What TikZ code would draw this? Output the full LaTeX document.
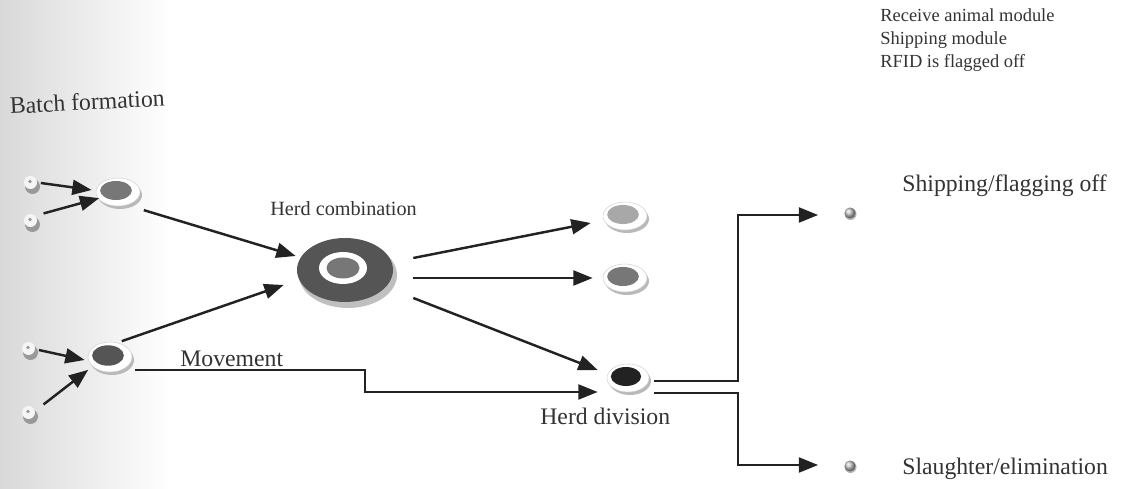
\documentclass[tikz,border=0pt]{standalone}
\usepackage{fontspec}
\setmainfont{Liberation Serif}
\usetikzlibrary{arrows.meta,shapes.geometric,calc}
\definecolor{ink}{HTML}{333333}
\definecolor{cLight}{HTML}{A8A8A8}
\definecolor{cMid}{HTML}{777777}
\definecolor{cDark}{HTML}{555555}
\definecolor{cBlack}{HTML}{222222}
\newcommand\mydisc[5]{%
  \fill[gray!55] ($(#2)+(2,3)$) ellipse [x radius=#3, y radius=#4];
  \fill[white,draw=gray!35,line width=0.3pt] (#2) ellipse [x radius=#3, y radius=#4];
  \fill[#5] ($(#2)+(-2,-1.5)$) ellipse [x radius=#3*0.72, y radius=#4*0.68];
  \node[ellipse,inner sep=0pt,minimum width={#3*0.04cm},minimum height={#4*0.04cm}] (#1) at (#2) {};
}
\newcommand\mysrc[2]{%
  \fill[gray!80] ($(#2)+(0.5,2.5)$) circle [radius=7.5];
  \fill[white!92!gray] ($(#2)+(-1.5,-1.5)$) circle [radius=6.5];
  \fill[gray!80] ($(#2)+(-2,-2.5)$) circle [radius=1.8];
  \node[circle,inner sep=0pt,minimum size=0.3cm] (#1) at (#2) {};
}
\newcommand\myend[2]{%
  \fill[gray!60] ($(#2)+(0.5,1)$) circle [radius=6];
  \shade[ball color=gray!45] (#2) circle [radius=5.5];
  \node[circle,inner sep=0pt,minimum size=0.22cm] (#1) at (#2) {};
}
\tikzset{
  arr/.style={draw=cBlack,line width=1.4pt,-{Triangle[length=11pt,width=8.5pt]}},
  lbl/.style={text=ink,inner sep=0pt,anchor=base west,font=\fontsize{13.5}{16}\selectfont},
  slbl/.style={text=ink,inner sep=0pt,anchor=base west,font=\fontsize{10.5}{12.5}\selectfont},
}
\begin{document}
\begin{tikzpicture}[x=0.02cm,y=-0.02cm]
\useasboundingbox (0,0) rectangle (1123,489);
\shade[left color=gray!30,right color=white] (0,0) rectangle (170,489);

% source nodes
\mysrc{s1}{32,184}
\mysrc{s2}{32,222}
\mysrc{s3}{30,350}
\mysrc{s4}{30,414}

% batch nodes
\mydisc{b1}{118,192}{22}{14}{cMid}
\mydisc{b2}{110,357}{22}{15}{cDark}

% herd combination
\fill[gray!50] (348,275) ellipse [x radius=49, y radius=33];
\fill[cDark] (345,270) ellipse [x radius=48, y radius=32];
\fill[white] (343,268) ellipse [x radius=24, y radius=16];
\fill[cMid] (343,268) ellipse [x radius=16.5, y radius=10.5];
\node[ellipse,inner sep=0pt,minimum width=1.92cm,minimum height=1.28cm] (hc) at (345,270) {};

% outputs
\mydisc{o1}{625,216}{22}{14}{cLight}
\mydisc{o2}{625,278}{22}{14}{cMid}
\mydisc{hd}{628,378}{21}{14}{cBlack}

% end points
\myend{e1}{850,213}
\myend{e2}{850,466}

% bend coordinates
\coordinate (m1) at (365,370);
\coordinate (m2) at (365,392);
\coordinate (d1) at (738,381);
\coordinate (d2) at (738,393);

% arrows
\draw[arr] ([shift={(1,-1)}]s1.east) -- ([shift={(-4,-2)}]b1.west);
\draw[arr] ([shift={(6,-3)}]s2.north east) -- ([shift={(-3,-4)}]b1.south west);
\draw[arr] ([shift={(1,0)}]s3.east) -- ([shift={(-3,3)}]b2.west);
\draw[arr] ([shift={(8,-4)}]s4.north east) -- ([shift={(-6,2)}]b2.south west);
\draw[arr] ([shift={(10,8)}]b1.south east) -- ([shift={(-1,-14)}]hc.west);
\draw[arr] ([shift={(-4,-5)}]b2.north east) -- ([shift={(-13,15)}]hc.west);
\draw[arr] ([shift={(20,-12)}]hc.east) -- ([shift={(-12,7)}]o1.west);
\draw[arr] ([shift={(20,8)}]hc.east) -- ([shift={(-10,0)}]o2.west);
\draw[arr] ([shift={(20,28)}]hc.east) -- ([shift={(-9,-8)}]hd.west);
\draw[arr] ([shift={(3,13)}]b2.east) -- (m1) -- (m2) -- ([shift={(-9,14)}]hd.west);
\draw[arr] ([shift={(5,3)}]hd.east) -- (d1) |- ([shift={(-26,2)}]e1.west);
\draw[arr] ([shift={(5,15)}]hd.east) -- (d2) |- ([shift={(-26,-1)}]e2.west);

% labels
\node[lbl,rotate=3] (tbatch) at (10,114) {Batch formation};
\node[slbl,font=\fontsize{11.5}{13}\selectfont] (thc) at (270,216) {Herd combination};
\node[lbl] (tmove) at (180,367) {Movement};
\node[lbl] (thd) at (540,425) {Herd division};
\node[lbl] (tship) at (902,192) {Shipping/flagging off};
\node[lbl] (tsl) at (902,475) {Slaughter/elimination};
\node[slbl] (t1) at (880,22) {Receive animal module};
\node[slbl] (t2) at (880,45) {Shipping module};
\node[slbl] (t3) at (880,68) {RFID is flagged off};
\end{tikzpicture}
\end{document}
